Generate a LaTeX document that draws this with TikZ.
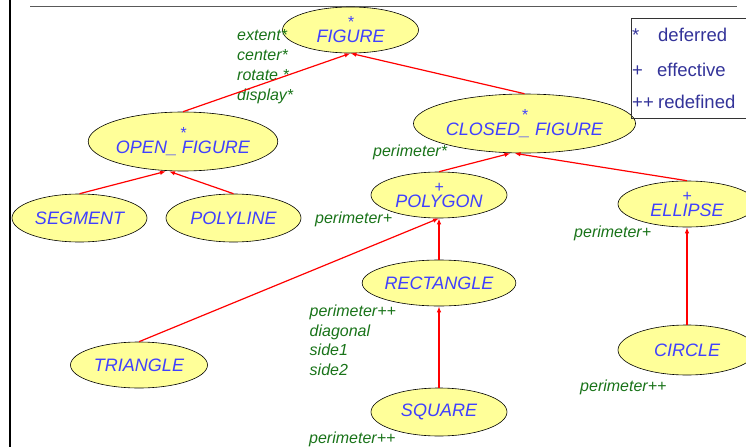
\documentclass[tikz,border=0pt]{standalone}
\usepackage{fontspec}
\setmainfont{Liberation Sans}
\usetikzlibrary{shapes.geometric,arrows.meta}
\definecolor{clsyellow}{rgb}{1,1,0.6}
\definecolor{clsblue}{rgb}{0.25,0.25,1}
\definecolor{featgreen}{rgb}{0.1,0.45,0.1}
\definecolor{legblue}{rgb}{0.2,0.2,0.6}
\newcommand{\clsmark}[1]{{\fontsize{16}{16}\selectfont #1}\\[-3pt]}
\tikzset{
  cls/.style={ellipse, draw=black, line width=0.6pt, fill=clsyellow, text=clsblue,
    font=\fontsize{18}{18}\selectfont\itshape, inner sep=0pt, align=center,
    minimum width=136pt, minimum height=46pt},
  feat/.style={anchor=base west, inner sep=0pt, text=featgreen, align=left,
    font=\fontsize{16}{20}\selectfont\itshape},
  legtext/.style={anchor=base west, inner sep=0pt, text=legblue,
    font=\fontsize{18.5}{18.5}\selectfont},
  inherit/.style={red, line width=1.2pt, -{Latex[length=6pt,width=4.5pt]}}
}

\begin{document}
\begin{tikzpicture}[x=1pt,y=-1pt]
\useasboundingbox (0,0) rectangle (746,447);
% frame
\draw[line width=2.7pt] (10,0) -- (10,447);
\draw[black!65, line width=0.9pt] (30,6) -- (737,6);

% classes
\node[cls, minimum height=46pt] (fig) at (350.5,30) {\clsmark{*}FIGURE};
\node[cls, minimum width=166pt, minimum height=59pt] (open) at (183,141.5) {\clsmark{*}OPEN\_ FIGURE};
\node[cls, minimum width=201pt, minimum height=59pt] (closed) at (524.5,123.5) {\clsmark{*}CLOSED\_ FIGURE};
\node[cls, minimum width=135pt, minimum height=48pt] (seg) at (79.5,218) {SEGMENT};
\node[cls, minimum width=135pt, minimum height=48pt] (poly) at (233.5,218) {POLYLINE};
\node[cls] (polygon) at (439,195) {\clsmark{+}POLYGON};
\node[cls, minimum width=138pt] (ell) at (687,204) {\clsmark{+}ELLIPSE};
\node[cls] (rect) at (439,283) {RECTANGLE};
\node[cls, minimum width=137pt] (tri) at (139,365) {TRIANGLE};
\node[cls, minimum height=48pt] (sq) at (439,412) {SQUARE};
\node[cls, minimum width=138pt, minimum height=50pt] (circ) at (687,350) {CIRCLE};

% features (base = last line)
\node[feat] (figfeat) at (237,100) {extent*\\center*\\rotate *\\display*};
\node[feat] (closedfeat) at (373,156) {perimeter*};
\node[feat] (polyfeat) at (315,223) {perimeter+};
\node[feat] (ellfeat) at (574,237) {perimeter+};
\node[feat, font=\fontsize{16}{19.5}\selectfont\itshape] (rectfeat) at (309.5,375) {perimeter++\\diagonal\\side1\\side2};
\node[feat] (sqfeat) at (309,443) {perimeter++};
\node[feat] (circfeat) at (580,391) {perimeter++};

% inheritance
\draw[inherit] (open.north) -- (fig.south);
\draw[inherit] (closed.north) -- (fig.south);
\draw[inherit] (seg.north) -- ([xshift=-17pt]open.south);
\draw[inherit] (poly.north) -- ([xshift=-14pt]open.south);
\draw[inherit] (polygon.north) -- ([xshift=-14pt]closed.south);
\draw[inherit] (ell.north) -- ([xshift=-10pt]closed.south);
\draw[inherit] (tri.north) -- (polygon.south);
\draw[inherit] (rect.north) -- (polygon.south);
\draw[inherit] (sq.north) -- (rect.south);
\draw[inherit] (circ.north) -- (ell.south);

% legend
\draw[black!80, line width=0.8pt] (631,18) rectangle (750,118);
\node[legtext] (legstar) at (632,41) {*};
\node[legtext] (legdef) at (658,41) {deferred};
\node[legtext] (legplus) at (632,76) {+};
\node[legtext] (legeff) at (657,76) {effective};
\node[legtext] (legpp) at (632,108) {++};
\node[legtext] (legred) at (658,108) {redefined};
\end{tikzpicture}
\end{document}
